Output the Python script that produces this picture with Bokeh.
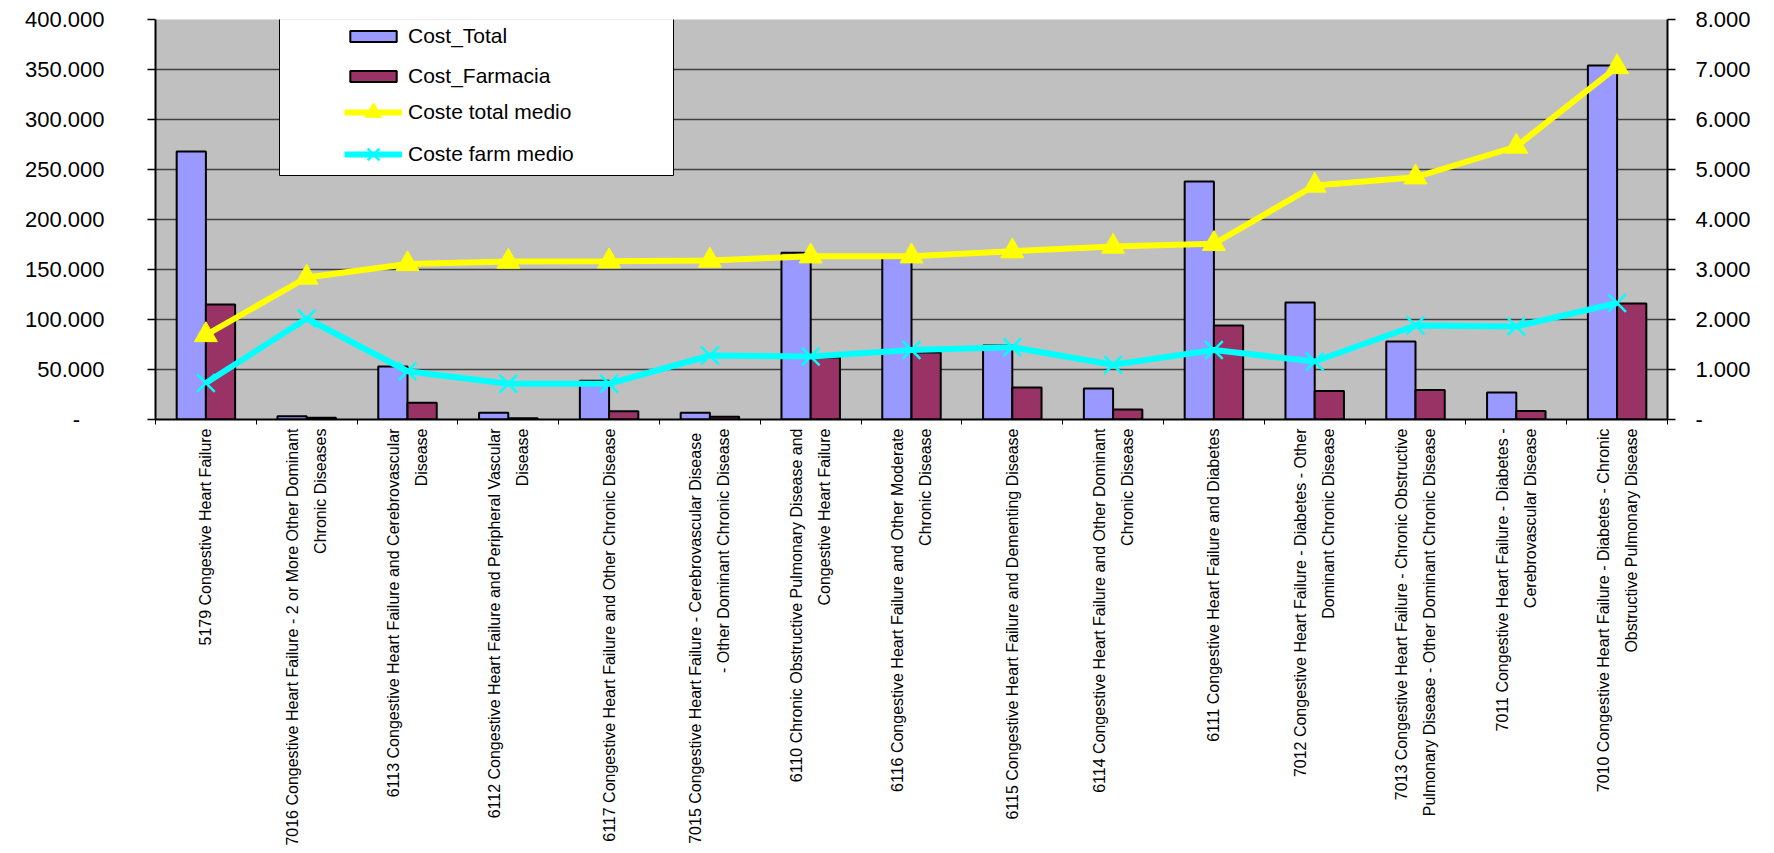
import math
import numpy as np
from bokeh.plotting import figure
from bokeh.models import (Range1d, LinearAxis, FixedTicker, Legend, LegendItem,
                          BoxAnnotation)
from bokeh.embed import file_html
from bokeh.resources import INLINE

# ---------------- data ----------------
categories = [
    "5179 Congestive Heart Failure",
    "7016 Congestive Heart Failure - 2 or More Other Dominant\nChronic Diseases",
    "6113 Congestive Heart Failure and Cerebrovascular\nDisease",
    "6112 Congestive Heart Failure and Peripheral Vascular\nDisease",
    "6117 Congestive Heart Failure and Other Chronic Disease",
    "7015 Congestive Heart Failure -  Cerebrovascular Disease\n- Other Dominant Chronic Disease",
    "6110 Chronic Obstructive Pulmonary Disease and\nCongestive Heart Failure",
    "6116 Congestive Heart Failure and Other Moderate\nChronic Disease",
    "6115 Congestive Heart Failure and Dementing Disease",
    "6114 Congestive Heart Failure and Other Dominant\nChronic Disease",
    "6111 Congestive Heart Failure and Diabetes",
    "7012 Congestive Heart Failure - Diabetes - Other\nDominant Chronic Disease",
    "7013 Congestive Heart Failure - Chronic Obstructive\nPulmonary Disease - Other Dominant Chronic Disease",
    "7011 Congestive Heart Failure - Diabetes -\nCerebrovascular Disease",
    "7010 Congestive Heart Failure - Diabetes - Chronic\nObstructive Pulmonary Disease",
]
cost_total = [268000, 3300, 53000, 6700, 38700, 6700, 166700, 162000,
              74000, 31000, 238000, 117000, 78000, 27000, 354000]
cost_farmacia = [115000, 1800, 16700, 1300, 8300, 2800, 62000, 67000,
                 32000, 10000, 94000, 28500, 29500, 8500, 116000]
coste_total_medio = [1690, 2840, 3110, 3160, 3165, 3180, 3265, 3265,
                     3365, 3460, 3515, 4680, 4845, 5460, 7050]
coste_farm_medio = [730, 2020, 965, 715, 715, 1280, 1260, 1390,
                    1445, 1095, 1390, 1160, 1880, 1860, 2330]

left_ticks = [0, 50000, 100000, 150000, 200000, 250000, 300000, 350000, 400000]
left_tick_labels = ["-\u00a0\u00a0\u00a0\u00a0", "50.000", "100.000", "150.000", "200.000",
                    "250.000", "300.000", "350.000", "400.000"]
right_ticks = [0, 1000, 2000, 3000, 4000, 5000, 6000, 7000, 8000]
right_tick_labels = ["-", "1.000", "2.000", "3.000", "4.000", "5.000",
                     "6.000", "7.000", "8.000"]

series_names = ["Cost_Total", "Cost_Farmacia", "Coste total medio", "Coste farm medio"]

# ---------------- figure ----------------
n = len(categories)
idx = np.arange(n)
centers = idx + 0.5
bounds = list(np.arange(n + 1).astype(float))

FONT = "Liberation Sans"

p = figure(width=1774, height=853, x_range=Range1d(0, n), y_range=Range1d(0, 400000),
           output_backend="svg", toolbar_location=None,
           min_border_left=155, min_border_right=107, min_border_top=19,
           min_border_bottom=434,
           background_fill_color="#C0C0C0", border_fill_color="white",
           outline_line_color=None)

p.extra_y_ranges = {"right": Range1d(0, 8000)}

# grid
p.xgrid.visible = False
p.ygrid.ticker = FixedTicker(ticks=left_ticks)
p.ygrid.grid_line_color = "#404040"
p.ygrid.grid_line_width = 1.5

# x axis
xa = p.xaxis[0]
xa.ticker = FixedTicker(ticks=list(centers), minor_ticks=bounds)
xa.major_label_overrides = {float(c): lab for c, lab in zip(centers, categories)}
xa.major_label_orientation = math.pi / 2
xa.major_label_text_align = "center"
xa.major_tick_out = 0
xa.major_tick_in = 0
xa.minor_tick_out = 5
xa.minor_tick_in = 0
xa.minor_tick_line_color = "black"
xa.minor_tick_line_width = 1
xa.axis_line_color = "black"
xa.axis_line_width = 2
xa.major_label_standoff = 4
xa.major_label_text_font = FONT
xa.major_label_text_font_size = "16px"
xa.major_label_text_color = "black"
xa.major_label_text_line_height = 1.65

# left axis
ya = p.yaxis[0]
ya.ticker = FixedTicker(ticks=left_ticks)
ya.major_label_overrides = {t: l for t, l in zip(left_ticks, left_tick_labels)}
ya.major_tick_out = 8
ya.major_tick_in = 0
ya.minor_tick_line_color = None
ya.axis_line_color = "black"
ya.axis_line_width = 2
ya.major_tick_line_color = "black"
ya.major_tick_line_width = 1.5
ya.major_label_standoff = 43
ya.major_label_text_font = FONT
ya.major_label_text_font_size = "22px"
ya.major_label_text_color = "black"

# right axis
ra = LinearAxis(y_range_name="right", ticker=FixedTicker(ticks=right_ticks),
                major_label_overrides={t: l for t, l in zip(right_ticks, right_tick_labels)},
                major_tick_out=8, major_tick_in=0, minor_tick_line_color=None,
                axis_line_color="black", axis_line_width=2,
                major_tick_line_color="black", major_tick_line_width=1.5,
                major_label_standoff=20, major_label_text_font=FONT,
                major_label_text_font_size="22px", major_label_text_color="black")
p.add_layout(ra, "right")

# bars
bw = 0.29
r_tot = p.vbar(x=centers - bw / 2, top=cost_total, width=bw, bottom=0,
               fill_color="#9999FF", line_color="black", line_width=2)
r_far = p.vbar(x=centers + bw / 2, top=cost_farmacia, width=bw, bottom=0,
               fill_color="#993366", line_color="black", line_width=2)

# lines
l_tot = p.line(centers, coste_total_medio, line_color="#FFFF00", line_width=6,
               y_range_name="right")
s_tot = p.scatter(centers, coste_total_medio, marker="triangle", size=23,
                  fill_color="#FFFF00", line_color="#FFFF00", y_range_name="right")
l_far = p.line(centers, coste_farm_medio, line_color="#00FFFF", line_width=6,
               y_range_name="right")
s_far = p.scatter(centers, coste_farm_medio, marker="x", size=25,
                  line_color="#00FFFF", line_width=2.5, y_range_name="right")

# legend box + legends
box = BoxAnnotation(left=124, right=518, bottom=244, top=403,
                    left_units="screen", right_units="screen",
                    bottom_units="screen", top_units="screen",
                    fill_color="white", fill_alpha=1.0,
                    line_color="black", line_width=1, line_alpha=1.0)
p.add_layout(box)

common = dict(padding=0, spacing=0, margin=0, glyph_width=58, label_standoff=6,
              label_text_font=FONT, label_text_font_size="21px",
              label_text_color="black", background_fill_alpha=0, border_line_alpha=0)

legend_bars = Legend(items=[
    LegendItem(label=series_names[0], renderers=[r_tot]),
    LegendItem(label=series_names[1], renderers=[r_far]),
], location=(189, 323), glyph_height=14, label_height=40, **common)
legend_lines = Legend(items=[
    LegendItem(label=series_names[2], renderers=[l_tot, s_tot]),
    LegendItem(label=series_names[3], renderers=[l_far, s_far]),
], location=(189, 244), glyph_height=42, label_height=40, **common)
p.add_layout(legend_bars, "center")
p.add_layout(legend_lines, "center")

open("out.html", "w").write(file_html(p, INLINE))
